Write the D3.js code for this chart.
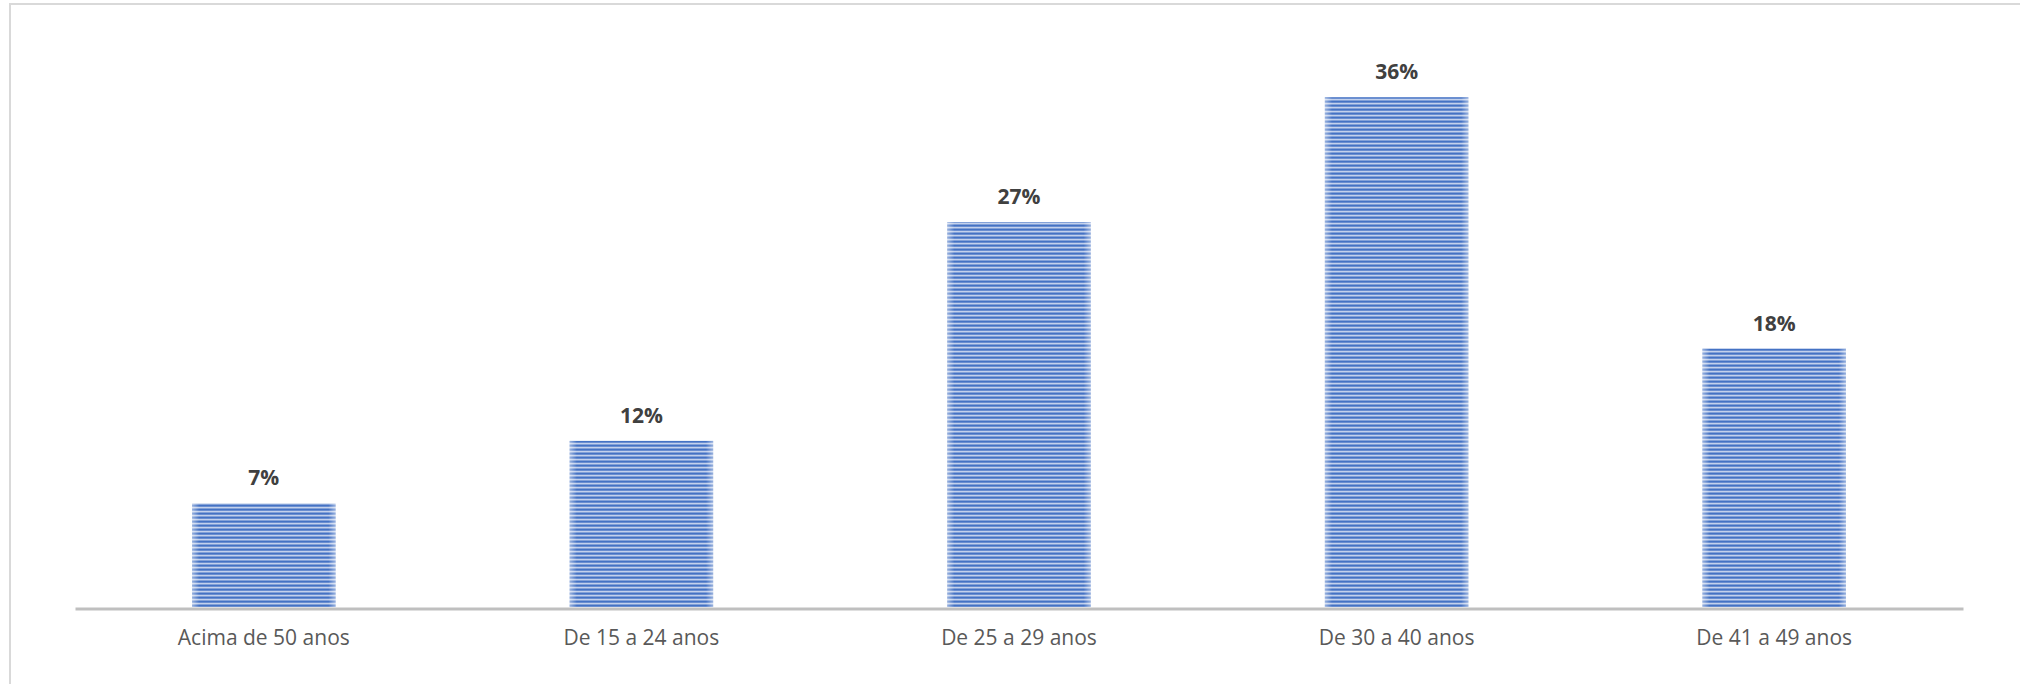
<!DOCTYPE html>
<meta charset="utf-8">
<script src="https://d3js.org/d3.v7.min.js"></script>
<style>
  body { margin: 0; background: #fff; }
</style>
<body>
  <div id="container"></div>
</body>
<script>
    // chart data
    var categories = ["Acima de 50 anos", "De 15 a 24 anos", "De 25 a 29 anos", "De 30 a 40 anos", "De 41 a 49 anos"];
    var values = [7.3, 11.7, 27.1, 35.9, 18.2];
    var labels = ["7%", "12%", "27%", "36%", "18%"];

    var W = 2020, H = 684;
    var margin = {top: 39, right: 57, bottom: 77, left: 75},
        width = W - margin.left - margin.right,
        height = H - margin.top - margin.bottom;

    var root = d3.select("#container")
      .append("svg")
      .attr("width", W)
      .attr("height", H);

    // striped fill like the Excel pattern
    var defs = root.append("defs");
    var pat = defs.append("pattern")
      .attr("id", "stripes")
      .attr("patternUnits", "userSpaceOnUse")
      .attr("width", 8)
      .attr("height", 4);
    pat.append("rect").attr("width", 8).attr("height", 4).attr("fill", "#c3d1ec");
    pat.append("rect").attr("y", 1.5).attr("width", 8).attr("height", 2.2).attr("fill", "#4472c4");

    // soft edges on the bars
    var grad = defs.append("linearGradient").attr("id", "edge").attr("x1", 0).attr("x2", 1);
    grad.append("stop").attr("offset", "0").attr("stop-color", "#fff").attr("stop-opacity", 0.45);
    grad.append("stop").attr("offset", "0.05").attr("stop-color", "#fff").attr("stop-opacity", 0);
    grad.append("stop").attr("offset", "0.95").attr("stop-color", "#fff").attr("stop-opacity", 0);
    grad.append("stop").attr("offset", "1").attr("stop-color", "#fff").attr("stop-opacity", 0.45);

    // chart border
    root.append("rect")
      .attr("x", 10).attr("y", 4)
      .attr("width", W + 20).attr("height", H + 20)
      .attr("fill", "none")
      .attr("stroke", "#d9d9d9")
      .attr("stroke-width", 2);

    var svg = root.append("g")
      .attr("transform", "translate(" + margin.left + "," + margin.top + ")");

    var x = d3.scaleBand()
      .domain(categories)
      .range([0, width])
      .paddingInner(0.62)
      .paddingOuter(0.31);

    var y = d3.scaleLinear()
      .domain([0, 40])
      .range([height, 0]);

    var data = categories.map(function(c, i) { return {cat: c, v: values[i], lab: labels[i]}; });

    // bars
    svg.append("g")
      .selectAll("rect")
      .data(data)
      .enter()
      .append("rect")
        .attr("x", function(d) { return x(d.cat); })
        .attr("y", function(d) { return y(d.v); })
        .attr("width", x.bandwidth())
        .attr("height", function(d) { return height - y(d.v); })
        .attr("fill", "url(#stripes)");

    svg.append("g")
      .selectAll("rect")
      .data(data)
      .enter()
      .append("rect")
        .attr("x", function(d) { return x(d.cat); })
        .attr("y", function(d) { return y(d.v); })
        .attr("width", x.bandwidth())
        .attr("height", function(d) { return height - y(d.v); })
        .attr("fill", "url(#edge)");

    // value labels
    svg.append("g")
      .selectAll("text")
      .data(data)
      .enter()
      .append("text")
        .attr("x", function(d) { return x(d.cat) + x.bandwidth() / 2; })
        .attr("y", function(d) { return y(d.v) - 18; })
        .attr("text-anchor", "middle")
        .attr("font-family", "Open Sans")
        .attr("font-weight", "bold")
        .attr("font-size", "21px")
        .attr("fill", "#404040")
        .text(function(d) { return d.lab; });

    // x axis
    var xAxis = svg.append("g")
      .attr("transform", "translate(0," + (height + 1.5) + ")")
      .call(d3.axisBottom(x).tickSize(0).tickPadding(22));
    xAxis.select(".domain")
      .attr("stroke", "#bfbfbf")
      .attr("stroke-width", 3);
    xAxis.selectAll("text")
      .attr("font-family", "Open Sans")
      .attr("font-size", "21px")
      .attr("fill", "#595959");
</script>
